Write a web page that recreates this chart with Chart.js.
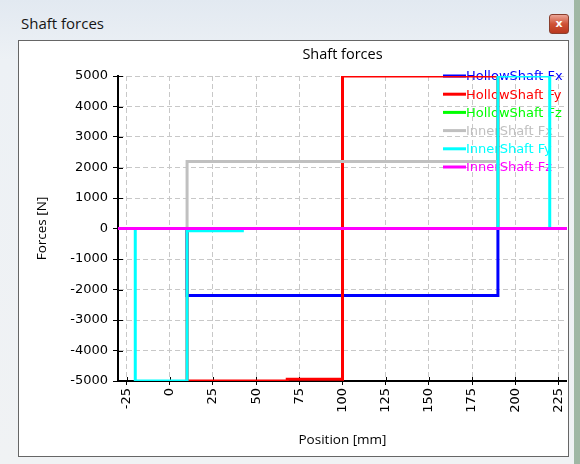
<!DOCTYPE html>
<html>
<head>
<meta charset="utf-8">
<title>Shaft forces</title>
<script src="https://cdn.jsdelivr.net/npm/chart.js@4/dist/chart.umd.min.js"></script>
<style>
  body {
    margin: 0;
    width: 580px;
    height: 464px;
    overflow: hidden;
    position: relative;
    background: linear-gradient(90deg, #b9c0b8, #9fb7a4);
    font-family: 'Open Sans', sans-serif;
  }
  .window {
    position: absolute;
    left: 0;
    top: 0;
    width: 574px;
    height: 464px;
    background: linear-gradient(#e2e9f1, #edf1f5 60px, #f0f2f4);
  }
  .caption {
    position: absolute;
    left: 21px;
    top: 13px;
    font-size: 15px;
    color: #151515;
  }
  .close-btn {
    position: absolute;
    left: 549px;
    top: 14px;
    width: 18px;
    height: 18px;
    border: 1px solid #8a3f2e;
    border-radius: 3px;
    background: linear-gradient(#eba597, #cf5236 50%, #b9371d);
    color: #fff;
    font: bold 11px 'DejaVu Sans', sans-serif;
    text-align: center;
    line-height: 17px;
  }
  .panel {
    position: absolute;
    left: 18px;
    top: 40px;
    width: 549px;
    height: 415px;
    background: #fff;
    border: 1px solid #666;
  }
  .chart-box {
    position: absolute;
    left: 0;
    top: 0;
    width: 548px;
    height: 415px;
  }
</style>
</head>
<body>
<div class="window">
  <div class="caption">Shaft forces</div>
  <div class="close-btn">x</div>
  <div class="panel">
    <div class="chart-box"><canvas id="shaftForces"></canvas></div>
  </div>
</div>
<script>
let xTicks = [-25, 0, 25, 50, 75, 100, 125, 150, 175, 200, 225];
let yTicks = [-5000, -4000, -3000, -2000, -1000, 0, 1000, 2000, 3000, 4000, 5000];
let seriesNames = ['HollowShaft Fx', 'HollowShaft Fy', 'HollowShaft Fz', 'InnerShaft Fx', 'InnerShaft Fy', 'InnerShaft Fz'];

// step points: value holds from this position until the next one
let hollowFxPos = [-30, 10, 190, 230];
let hollowFxVal = [0, -2200, 0, 0];
let hollowFyPos = [-30, 10, 68, 100, 190, 230];
let hollowFyVal = [0, -5000, -4940, 5000, 0, 0];
let hollowFzPos = [-30, 230];
let hollowFzVal = [0, 0];
let innerFxPos = [-30, 10, 190, 230];
let innerFxVal = [0, 2200, 0, 0];
let innerFyPos = [-30, -20, 10, 42, 190, 220, 230];
let innerFyVal = [0, -5000, -70, 0, 5000, 0, 0];
let innerFzPos = [-30, 230];
let innerFzVal = [0, 0];

let seriesColors = ['#0000ff', '#ff0000', '#00ff00', '#c0c0c0', '#00ffff', '#ff00ff'];

let positions = [hollowFxPos, hollowFyPos, hollowFzPos, innerFxPos, innerFyPos, innerFzPos];
let values = [hollowFxVal, hollowFyVal, hollowFzVal, innerFxVal, innerFyVal, innerFzVal];

Chart.defaults.font.family = "'DejaVu Sans', sans-serif";
Chart.defaults.font.size = 13;
Chart.defaults.color = '#000';

// legend sits inside the plot, under the lines
let insideLegend = {
  id: 'insideLegend',
  beforeDatasetsDraw(chart) {
    const ctx = chart.ctx;
    const area = chart.chartArea;
    const x0 = area.right - 124;
    ctx.save();
    ctx.font = "13px 'DejaVu Sans', sans-serif";
    ctx.textBaseline = 'middle';
    ctx.textAlign = 'left';
    chart.data.datasets.forEach((ds, i) => {
      const y = area.top + i * 18.2;
      ctx.strokeStyle = ds.borderColor;
      ctx.lineWidth = 3;
      ctx.beginPath();
      ctx.moveTo(x0, y);
      ctx.lineTo(x0 + 23, y);
      ctx.stroke();
      ctx.fillStyle = ds.borderColor;
      ctx.fillText(ds.label, x0 + 23, y + 1);
    });
    ctx.restore();
  },
};

// small tick marks on the inner side of both axes
let innerTicks = {
  id: 'innerTicks',
  beforeDatasetsDraw(chart) {
    const ctx = chart.ctx;
    const area = chart.chartArea;
    ctx.save();
    ctx.strokeStyle = '#000';
    ctx.lineWidth = 1;
    ctx.beginPath();
    yTicks.forEach((v) => {
      const y = Math.round(chart.scales.y.getPixelForValue(v)) + 0.5;
      ctx.moveTo(area.left, y);
      ctx.lineTo(area.left + 5, y);
    });
    xTicks.forEach((v) => {
      const x = Math.round(chart.scales.x.getPixelForValue(v)) + 0.5;
      ctx.moveTo(x, area.bottom);
      ctx.lineTo(x, area.bottom - 4);
    });
    ctx.stroke();
    ctx.restore();
  },
};

let datasets = seriesNames.map((name, i) => ({
  label: name,
  data: positions[i].map((x, j) => ({ x: x, y: values[i][j] })),
  borderColor: seriesColors[i],
  backgroundColor: seriesColors[i],
  borderWidth: 3,
  pointRadius: 0,
  stepped: true,
  borderJoinStyle: 'miter',
  fill: false,
  order: seriesNames.length - i,
}));

let ctx = document.getElementById('shaftForces').getContext('2d');
const config = {
  type: 'line',
  data: { datasets: datasets },
  options: {
    responsive: true,
    maintainAspectRatio: false,
    animation: false,
    events: [],
    layout: { padding: 0, autoPadding: false },
    plugins: {
      legend: { display: false },
      tooltip: { enabled: false },
      title: {
        display: true,
        text: 'Shaft forces',
        fullSize: false,
        color: '#000',
        font: { family: "'Open Sans', sans-serif", size: 14.5, weight: 'normal' },
        padding: { top: 5, bottom: 12.6 },
      },
    },
    scales: {
      x: {
        type: 'linear',
        min: -30,
        max: 230,
        afterBuildTicks: (scale) => {
          scale.ticks = xTicks.map((v) => ({ value: v }));
        },
        afterFit: (scale) => {
          scale.height = 75;
          scale.paddingLeft = 0;
          scale.paddingRight = 0;
        },
        ticks: {
          minRotation: 90,
          maxRotation: 90,
          padding: 3,
          color: '#000',
          callback: (v) => String(v),
        },
        grid: {
          color: '#c8c8c8',
          lineWidth: 1,
          tickColor: '#000',
          tickLength: 4,
          tickBorderDash: [],
        },
        border: { color: '#000', width: 2, dash: [5, 3] },
        title: {
          display: true,
          text: 'Position [mm]',
          color: '#000',
          font: { family: "'Open Sans', sans-serif", size: 13.5 },
          padding: { top: 0, bottom: 8 },
        },
      },
      y: {
        type: 'linear',
        min: -5000,
        max: 5000,
        afterBuildTicks: (scale) => {
          scale.ticks = yTicks.map((v) => ({ value: v }));
        },
        afterFit: (scale) => {
          scale.width = 99;
          scale.paddingTop = 0;
          scale.paddingBottom = 0;
        },
        ticks: {
          padding: 5,
          color: '#000',
          callback: (v) => String(v),
        },
        grid: {
          color: '#c8c8c8',
          lineWidth: 1,
          tickColor: '#000',
          tickLength: 5,
          tickBorderDash: [],
        },
        border: { color: '#000', width: 2, dash: [5, 3] },
        title: {
          display: true,
          text: 'Forces [N]',
          color: '#000',
          font: { family: "'Open Sans', sans-serif", size: 13.5 },
          padding: { top: 15, bottom: 0 },
        },
      },
    },
  },
  plugins: [insideLegend, innerTicks],
};
new Chart(ctx, config);
</script>
</body>
</html>
